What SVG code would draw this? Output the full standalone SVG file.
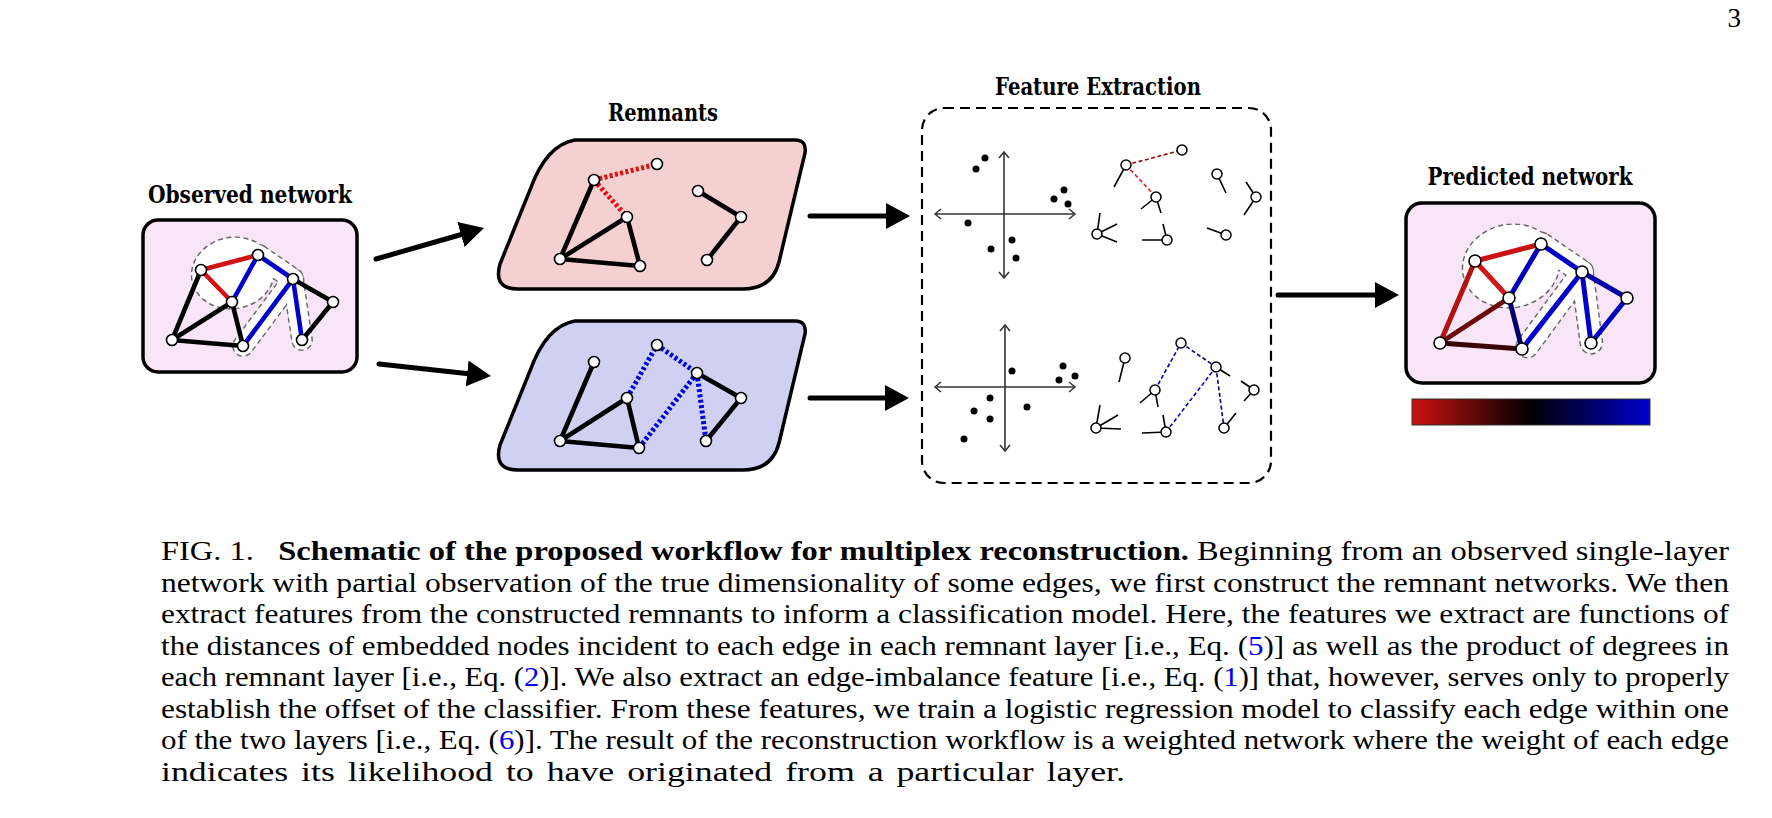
<svg xmlns="http://www.w3.org/2000/svg" width="1772" height="818" viewBox="0 0 1772 818">
<style>
.title{font-family:"DejaVu Serif","Liberation Serif",serif;font-weight:bold;font-size:25px;fill:#000}
.cap{font-family:"Liberation Serif","DejaVu Serif",serif;font-size:27px;fill:#000}
.b{font-weight:bold}
.ref{fill:#0000ff}
.panel{fill:#f8e5f7;stroke:#000;stroke-width:3.5}
.nd{fill:#fff;stroke:#000;stroke-width:1.6}
.sn{fill:#fff;stroke:#000;stroke-width:1.5}
.e{stroke-width:4.6;stroke-linecap:round;fill:none}
.k{stroke:#000}
.r{stroke:#d41212}
.bl{stroke:#0000cc}
.dr{stroke:#dd1111;stroke-width:5;stroke-dasharray:3 2.4;fill:none}
.db{stroke:#0000dd;stroke-width:5;stroke-dasharray:3 2.4;fill:none}
.hull{fill:#fff;stroke:#666;stroke-width:2.8;stroke-dasharray:5 3.5}
.hullf{fill:#fff;stroke:none}
.stem{stroke:#000;stroke-width:1.6;fill:none}
.ax{stroke:#333;stroke-width:1.6;fill:none;marker-start:url(#chev);marker-end:url(#chev)}
.dot{fill:#000}
.arr{stroke:#000;stroke-width:5;stroke-linecap:round;fill:none;marker-end:url(#ah)}
</style>
<defs>
<marker id="ah" markerUnits="userSpaceOnUse" markerWidth="26" markerHeight="28" refX="4" refY="13" orient="auto">
<path d="M0,0 L24,13 L0,26 Z" fill="#000"/>
</marker>
<marker id="chev" markerUnits="userSpaceOnUse" markerWidth="12" markerHeight="14" refX="7" refY="6" orient="auto-start-reverse">
<path d="M1,1 L7,6 L1,11" fill="none" stroke="#333" stroke-width="1.5"/>
</marker>
<linearGradient id="cbar" x1="0" y1="0" x2="1" y2="0">
<stop offset="0" stop-color="#cc1111"/>
<stop offset="0.5" stop-color="#000000"/>
<stop offset="1" stop-color="#0000cc"/>
</linearGradient>
</defs>
<rect width="1772" height="818" fill="#fff"/>

<text id="page-number" class="cap" x="1741" y="27" text-anchor="end">3</text>

<!-- Observed network -->
<g id="observed-network">
<text class="title" x="250" y="203" text-anchor="middle" textLength="204" lengthAdjust="spacingAndGlyphs">Observed network</text>
<rect class="panel" x="143" y="220" width="214" height="152" rx="15"/>
<g>
<ellipse class="hull" cx="233" cy="273" rx="41" ry="35" transform="rotate(-10 233 273)"/>
<rect class="hull" x="-10" y="-10" width="62.4" height="20" rx="10" transform="translate(258 255) rotate(34.4)"/>
<rect class="hull" x="-9.5" y="-9.5" width="102.6" height="19" rx="9.5" transform="translate(293 279) rotate(126.7)"/>
<rect class="hull" x="-9.5" y="-9.5" width="80.7" height="19" rx="9.5" transform="translate(293 279) rotate(81.6)"/>
<ellipse class="hullf" cx="233" cy="273" rx="41" ry="35" transform="rotate(-10 233 273)"/>
<rect class="hullf" x="-10" y="-10" width="62.4" height="20" rx="10" transform="translate(258 255) rotate(34.4)"/>
<rect class="hullf" x="-9.5" y="-9.5" width="102.6" height="19" rx="9.5" transform="translate(293 279) rotate(126.7)"/>
<rect class="hullf" x="-9.5" y="-9.5" width="80.7" height="19" rx="9.5" transform="translate(293 279) rotate(81.6)"/>
</g>
<g>
<line class="e k" x1="201" y1="270" x2="172" y2="340"/>
<line class="e k" x1="232" y1="302" x2="172" y2="340"/>
<line class="e k" x1="172" y1="340" x2="243" y2="346"/>
<line class="e k" x1="232" y1="302" x2="243" y2="346"/>
<line class="e k" x1="293" y1="279" x2="333" y2="302"/>
<line class="e k" x1="333" y1="302" x2="302" y2="340"/>
<line class="e r" x1="201" y1="270" x2="258" y2="255"/>
<line class="e r" x1="201" y1="270" x2="232" y2="302"/>
<line class="e bl" x1="258" y1="255" x2="232" y2="302"/>
<line class="e bl" x1="258" y1="255" x2="293" y2="279"/>
<line class="e bl" x1="293" y1="279" x2="243" y2="346"/>
<line class="e bl" x1="293" y1="279" x2="302" y2="340"/>
</g>
<g>
<circle class="nd" cx="201" cy="270" r="5.5"/>
<circle class="nd" cx="258" cy="255" r="5.5"/>
<circle class="nd" cx="293" cy="279" r="5.5"/>
<circle class="nd" cx="232" cy="302" r="5.5"/>
<circle class="nd" cx="333" cy="302" r="5.5"/>
<circle class="nd" cx="172" cy="340" r="5.5"/>
<circle class="nd" cx="243" cy="346" r="5.5"/>
<circle class="nd" cx="302" cy="340" r="5.5"/>
</g>
</g>

<!-- Remnants title -->
<text id="remnants-title" class="title" x="663" y="121" text-anchor="middle" textLength="110" lengthAdjust="spacingAndGlyphs">Remnants</text>

<!-- Remnant layer 1 (red) -->
<g id="remnant-red">
<path d="M575 140 H795 Q807 140 805 153 L779 262 Q772 289 743 289 H518 Q493 289 500 264 L530 190 Q546 145 575 140 Z" fill="#f5d0d1" stroke="#000" stroke-width="3.5"/>
<line class="dr" x1="594" y1="180" x2="657" y2="164"/>
<line class="dr" x1="594" y1="180" x2="627" y2="217"/>
<line class="e k" x1="594" y1="180" x2="560" y2="259"/>
<line class="e k" x1="560" y1="259" x2="627" y2="217"/>
<line class="e k" x1="627" y1="217" x2="640" y2="266"/>
<line class="e k" x1="560" y1="259" x2="640" y2="266"/>
<line class="e k" x1="698" y1="191" x2="741" y2="217"/>
<line class="e k" x1="741" y1="217" x2="707" y2="260"/>
<circle class="nd" cx="594" cy="180" r="5.5"/>
<circle class="nd" cx="657" cy="164" r="5.5"/>
<circle class="nd" cx="627" cy="217" r="5.5"/>
<circle class="nd" cx="560" cy="259" r="5.5"/>
<circle class="nd" cx="640" cy="266" r="5.5"/>
<circle class="nd" cx="698" cy="191" r="5.5"/>
<circle class="nd" cx="741" cy="217" r="5.5"/>
<circle class="nd" cx="707" cy="260" r="5.5"/>
</g>

<!-- Remnant layer 2 (blue) -->
<g id="remnant-blue">
<path d="M575 321 H795 Q807 321 805 334 L779 443 Q772 470 743 470 H518 Q493 470 500 445 L530 371 Q546 326 575 321 Z" fill="#d0d0f3" stroke="#000" stroke-width="3.5"/>
<line class="db" x1="627" y1="398" x2="657" y2="345"/>
<line class="db" x1="657" y1="345" x2="697" y2="373"/>
<line class="db" x1="697" y1="373" x2="639" y2="448"/>
<line class="db" x1="697" y1="373" x2="706" y2="441"/>
<line class="e k" x1="594" y1="362" x2="560" y2="441"/>
<line class="e k" x1="560" y1="441" x2="627" y2="398"/>
<line class="e k" x1="627" y1="398" x2="639" y2="448"/>
<line class="e k" x1="560" y1="441" x2="639" y2="448"/>
<line class="e k" x1="697" y1="373" x2="741" y2="398"/>
<line class="e k" x1="741" y1="398" x2="706" y2="441"/>
<circle class="nd" cx="594" cy="362" r="5.5"/>
<circle class="nd" cx="657" cy="345" r="5.5"/>
<circle class="nd" cx="627" cy="398" r="5.5"/>
<circle class="nd" cx="560" cy="441" r="5.5"/>
<circle class="nd" cx="639" cy="448" r="5.5"/>
<circle class="nd" cx="697" cy="373" r="5.5"/>
<circle class="nd" cx="741" cy="398" r="5.5"/>
<circle class="nd" cx="706" cy="441" r="5.5"/>
</g>

<!-- Feature extraction -->
<g id="feature-extraction">
<text class="title" x="1098" y="95" text-anchor="middle" textLength="206" lengthAdjust="spacingAndGlyphs">Feature Extraction</text>
<rect x="922" y="108" width="349" height="375" rx="22" fill="none" stroke="#000" stroke-width="2.2" stroke-dasharray="10 6"/>
<line class="ax" x1="935" y1="214" x2="1075" y2="214"/>
<line class="ax" x1="1004" y1="152" x2="1004" y2="278"/>
<g class="dot">
<circle cx="985" cy="158" r="3.5"/><circle cx="976" cy="169" r="3.5"/>
<circle cx="1064" cy="190" r="3.5"/><circle cx="1054" cy="199" r="3.5"/><circle cx="1068" cy="204" r="3.5"/>
<circle cx="968" cy="223" r="3.5"/><circle cx="1012" cy="240" r="3.5"/><circle cx="991" cy="249" r="3.5"/><circle cx="1016" cy="258" r="3.5"/>
</g>
<line x1="1126" y1="165" x2="1182" y2="150" stroke="#8b0a0a" stroke-width="1.6" stroke-dasharray="4 2.5"/>
<line x1="1126" y1="165" x2="1156" y2="197" stroke="#dd2222" stroke-width="1.6" stroke-dasharray="4 2.5"/>
<path class="stem" d="M1126 165 L1114 187 M1156 197 L1141 209 M1156 197 L1161 213 M1217 174 L1226 193 M1256 197 L1246 182 M1256 197 L1244 215 M1097 234 L1100 213 M1097 234 L1117 224 M1097 234 L1117 242 M1167 240 L1142 240 M1167 240 L1163 224 M1226 235 L1207 228"/>
<circle class="sn" cx="1126" cy="165" r="5"/>
<circle class="sn" cx="1182" cy="150" r="5"/>
<circle class="sn" cx="1156" cy="197" r="5"/>
<circle class="sn" cx="1217" cy="174" r="5"/>
<circle class="sn" cx="1256" cy="197" r="5"/>
<circle class="sn" cx="1097" cy="234" r="5"/>
<circle class="sn" cx="1167" cy="240" r="5"/>
<circle class="sn" cx="1226" cy="235" r="5"/>
<line class="ax" x1="935" y1="387" x2="1075" y2="387"/>
<line class="ax" x1="1005" y1="325" x2="1005" y2="451"/>
<g class="dot">
<circle cx="1063" cy="366" r="3.5"/><circle cx="1012" cy="371" r="3.5"/><circle cx="1075" cy="376" r="3.5"/>
<circle cx="1059" cy="380" r="3.5"/><circle cx="990" cy="398" r="3.5"/><circle cx="1027" cy="407" r="3.5"/>
<circle cx="974" cy="411" r="3.5"/><circle cx="990" cy="419" r="3.5"/><circle cx="964" cy="439" r="3.5"/>
</g>
<line x1="1155" y1="390" x2="1181" y2="343" stroke="#0000aa" stroke-width="1.6" stroke-dasharray="4 2.5"/>
<line x1="1181" y1="343" x2="1216" y2="367" stroke="#000088" stroke-width="1.6" stroke-dasharray="4 2.5"/>
<line x1="1216" y1="367" x2="1166" y2="432" stroke="#0000cc" stroke-width="1.6" stroke-dasharray="4 2.5"/>
<line x1="1216" y1="367" x2="1224" y2="428" stroke="#000077" stroke-width="1.6" stroke-dasharray="4 2.5"/>
<path class="stem" d="M1125 358 L1119 382 M1216 367 L1230 376 M1155 390 L1140 403 M1155 390 L1158 407 M1254 390 L1241 381 M1254 390 L1244 401 M1096 428 L1100 405 M1096 428 L1118 415 M1096 428 L1121 429 M1166 432 L1142 433 M1166 432 L1163 415 M1224 428 L1236 413"/>
<circle class="sn" cx="1125" cy="358" r="5"/>
<circle class="sn" cx="1181" cy="343" r="5"/>
<circle class="sn" cx="1216" cy="367" r="5"/>
<circle class="sn" cx="1155" cy="390" r="5"/>
<circle class="sn" cx="1254" cy="390" r="5"/>
<circle class="sn" cx="1096" cy="428" r="5"/>
<circle class="sn" cx="1166" cy="432" r="5"/>
<circle class="sn" cx="1224" cy="428" r="5"/>
</g>

<!-- Predicted network -->
<g id="predicted-network">
<text class="title" x="1530" y="185" text-anchor="middle" textLength="205" lengthAdjust="spacingAndGlyphs">Predicted network</text>
<rect class="panel" x="1406" y="203" width="249" height="180" rx="16"/>
<g>
<ellipse class="hull" cx="1511" cy="266" rx="48" ry="41" transform="rotate(-10 1511 266)"/>
<rect class="hull" x="-11" y="-11" width="71.4" height="22" rx="11" transform="translate(1541 244) rotate(34.3)"/>
<rect class="hull" x="-10.5" y="-10.5" width="113.4" height="21" rx="10.5" transform="translate(1582 272) rotate(126.3)"/>
<rect class="hull" x="-10.5" y="-10.5" width="92.3" height="21" rx="10.5" transform="translate(1582 272) rotate(82.5)"/>
<ellipse class="hullf" cx="1511" cy="266" rx="48" ry="41" transform="rotate(-10 1511 266)"/>
<rect class="hullf" x="-11" y="-11" width="71.4" height="22" rx="11" transform="translate(1541 244) rotate(34.3)"/>
<rect class="hullf" x="-10.5" y="-10.5" width="113.4" height="21" rx="10.5" transform="translate(1582 272) rotate(126.3)"/>
<rect class="hullf" x="-10.5" y="-10.5" width="92.3" height="21" rx="10.5" transform="translate(1582 272) rotate(82.5)"/>
</g>
<g class="e" style="stroke-width:5">
<line x1="1475" y1="261" x2="1541" y2="244" stroke="#cc1111"/>
<line x1="1475" y1="261" x2="1509" y2="298" stroke="#d01818"/>
<line x1="1475" y1="261" x2="1440" y2="343" stroke="#b01212"/>
<line x1="1509" y1="298" x2="1440" y2="343" stroke="#6b0a0a"/>
<line x1="1440" y1="343" x2="1522" y2="349" stroke="#380404"/>
<line x1="1509" y1="298" x2="1522" y2="349" stroke="#00006e"/>
<line x1="1541" y1="244" x2="1509" y2="298" stroke="#0000bb"/>
<line x1="1541" y1="244" x2="1582" y2="272" stroke="#0000c8"/>
<line x1="1582" y1="272" x2="1522" y2="349" stroke="#0000cc"/>
<line x1="1582" y1="272" x2="1591" y2="343" stroke="#0000c8"/>
<line x1="1582" y1="272" x2="1627" y2="298" stroke="#0000a8"/>
<line x1="1627" y1="298" x2="1591" y2="343" stroke="#0000c0"/>
</g>
<g>
<circle class="nd" cx="1475" cy="261" r="6"/>
<circle class="nd" cx="1541" cy="244" r="6"/>
<circle class="nd" cx="1582" cy="272" r="6"/>
<circle class="nd" cx="1509" cy="298" r="6"/>
<circle class="nd" cx="1627" cy="298" r="6"/>
<circle class="nd" cx="1440" cy="343" r="6"/>
<circle class="nd" cx="1522" cy="349" r="6"/>
<circle class="nd" cx="1591" cy="343" r="6"/>
</g>
</g>

<g id="colorbar">
<rect x="1412" y="399" width="238" height="26" fill="url(#cbar)" stroke="#333" stroke-width="1"/>
</g>

<!-- Connectors -->
<g id="connectors">
<line class="arr" x1="376" y1="259" x2="464.8" y2="233.5"/>
<line class="arr" x1="379" y1="364" x2="471.1" y2="373.9"/>
<line class="arr" x1="810" y1="216" x2="890" y2="216"/>
<line class="arr" x1="810" y1="398" x2="889" y2="398"/>
<line class="arr" x1="1278" y1="295" x2="1379" y2="295"/>
</g>

<!-- Caption -->
<g id="caption" class="cap">
<text x="161" y="560" textLength="1568" lengthAdjust="spacingAndGlyphs">FIG. 1.&#160;&#160; <tspan class="b">Schematic of the proposed workflow for multiplex reconstruction.</tspan> Beginning from an observed single-layer</text>
<text x="161" y="591.5" textLength="1568" lengthAdjust="spacingAndGlyphs">network with partial observation of the true dimensionality of some edges, we first construct the remnant networks. We then</text>
<text x="161" y="623" textLength="1568" lengthAdjust="spacingAndGlyphs">extract features from the constructed remnants to inform a classification model. Here, the features we extract are functions of</text>
<text x="161" y="654.5" textLength="1568" lengthAdjust="spacingAndGlyphs">the distances of embedded nodes incident to each edge in each remnant layer [i.e., Eq. (<tspan class="ref">5</tspan>)] as well as the product of degrees in</text>
<text x="161" y="686" textLength="1568" lengthAdjust="spacingAndGlyphs">each remnant layer [i.e., Eq. (<tspan class="ref">2</tspan>)]. We also extract an edge-imbalance feature [i.e., Eq. (<tspan class="ref">1</tspan>)] that, however, serves only to properly</text>
<text x="161" y="717.5" textLength="1568" lengthAdjust="spacingAndGlyphs">establish the offset of the classifier. From these features, we train a logistic regression model to classify each edge within one</text>
<text x="161" y="749" textLength="1568" lengthAdjust="spacingAndGlyphs">of the two layers [i.e., Eq. (<tspan class="ref">6</tspan>)]. The result of the reconstruction workflow is a weighted network where the weight of each edge</text>
<text x="161" y="780.5" textLength="964" lengthAdjust="spacingAndGlyphs" word-spacing="3">indicates its likelihood to have originated from a particular layer.</text>
</g>
</svg>
